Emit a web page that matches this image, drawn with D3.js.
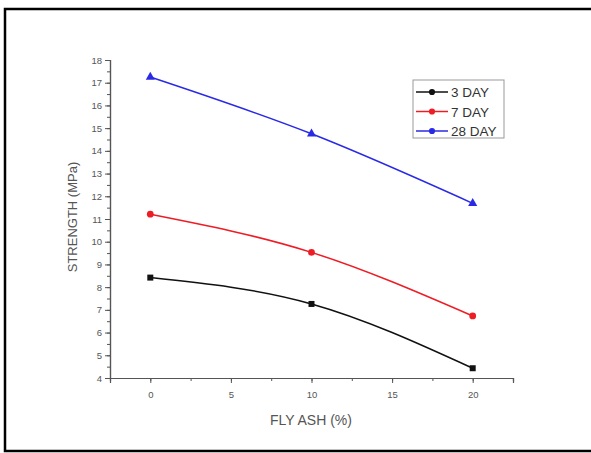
<!DOCTYPE html>
<html>
<head>
<meta charset="utf-8">
<script src="https://cdn.jsdelivr.net/npm/d3@7"></script>
<style>
  body { margin: 0; background: #fff; }
  svg { font-family: "Liberation Sans", Arial, sans-serif; }
</style>
</head>
<body>
<script>
// datos
const flyAsh = [0, 10, 20];
const series = ["3 DAY", "7 DAY", "28 DAY"];
const dia3 = [8.42, 7.26, 4.43];
const dia7 = [11.21, 9.53, 6.73];
const dia28 = [17.25, 14.75, 11.69];
const xTicks = [0, 5, 10, 15, 20];
const yTicks = [4, 5, 6, 7, 8, 9, 10, 11, 12, 13, 14, 15, 16, 17, 18];

const colores = ["#111111", "#ee1c24", "#2a2ae6"];
const simbolos = [d3.symbolSquare, d3.symbolCircle, d3.symbolTriangle];
const valores = [dia3, dia7, dia28];

const svg = d3.select("body").append("svg")
  .attr("width", 591).attr("height", 453);

// marco exterior
svg.append("rect")
  .attr("x", 5).attr("y", 9).attr("width", 600).attr("height", 442)
  .attr("fill", "none").attr("stroke", "#000").attr("stroke-width", 2.5);

const x = d3.scaleLinear().domain([-2.5, 22.5]).range([110, 513]);
const y = d3.scaleLinear().domain([4, 18]).range([378, 60]);

const gris = "#555";

// eje x
const ejeX = svg.append("g").attr("transform", "translate(0,378)");
ejeX.call(d3.axisBottom(x).tickValues(d3.range(-2.5, 22.6, 2.5)).tickSize(3).tickFormat(""));
const ejeX2 = svg.append("g").attr("transform", "translate(0,378)");
ejeX2.call(d3.axisBottom(x).tickValues(xTicks).tickSize(5).tickPadding(8));

// eje y
const ejeY = svg.append("g").attr("transform", "translate(110,0)");
ejeY.call(d3.axisLeft(y).tickValues(d3.range(4, 18.01, 0.5)).tickSize(3).tickFormat(""));
const ejeY2 = svg.append("g").attr("transform", "translate(110,0)");
ejeY2.call(d3.axisLeft(y).tickValues(yTicks).tickSize(5).tickPadding(3));

svg.selectAll(".domain").attr("stroke", gris).attr("stroke-width", 1.2);
svg.selectAll(".tick line").attr("stroke", gris);
svg.selectAll(".tick text").attr("fill", gris).attr("font-size", 9.5);

// títulos
svg.append("text")
  .attr("x", 311).attr("y", 425)
  .attr("text-anchor", "middle").attr("font-size", 14).attr("fill", gris)
  .text("FLY ASH (%)");
svg.append("text")
  .attr("transform", "translate(77,217) rotate(-90)")
  .attr("text-anchor", "middle").attr("font-size", 13).attr("fill", gris)
  .text("STRENGTH (MPa)");

// líneas
const linea = d3.line()
  .x((d, i) => x(flyAsh[i]))
  .y((d) => y(d))
  .curve(d3.curveNatural);

valores.forEach((vals, s) => {
  svg.append("path")
    .attr("d", linea(vals))
    .attr("fill", "none")
    .attr("stroke", colores[s])
    .attr("stroke-width", 1.5);

  svg.selectAll(".m" + s)
    .data(vals)
    .enter().append("path")
    .attr("class", "m" + s)
    .attr("transform", (d, i) => `translate(${x(flyAsh[i])},${y(d)})`)
    .attr("d", d3.symbol().type(simbolos[s]).size(36))
    .attr("fill", colores[s]);
});

// leyenda
const leyenda = svg.append("g");
leyenda.append("rect")
  .attr("x", 413).attr("y", 80).attr("width", 91).attr("height", 58)
  .attr("fill", "#fff").attr("stroke", "#999").attr("stroke-width", 1);

series.forEach((nombre, s) => {
  const yy = 92 + s * 19.5;
  leyenda.append("line")
    .attr("x1", 416).attr("x2", 448).attr("y1", yy).attr("y2", yy)
    .attr("stroke", colores[s]).attr("stroke-width", 1.5);
  leyenda.append("path")
    .attr("transform", `translate(432,${yy})`)
    .attr("d", d3.symbol().type(d3.symbolCircle).size(30))
    .attr("fill", colores[s]);
  leyenda.append("text")
    .attr("x", 451).attr("y", yy + 5)
    .attr("font-size", 13.5).attr("fill", "#333")
    .text(nombre);
});
</script>
</body>
</html>
